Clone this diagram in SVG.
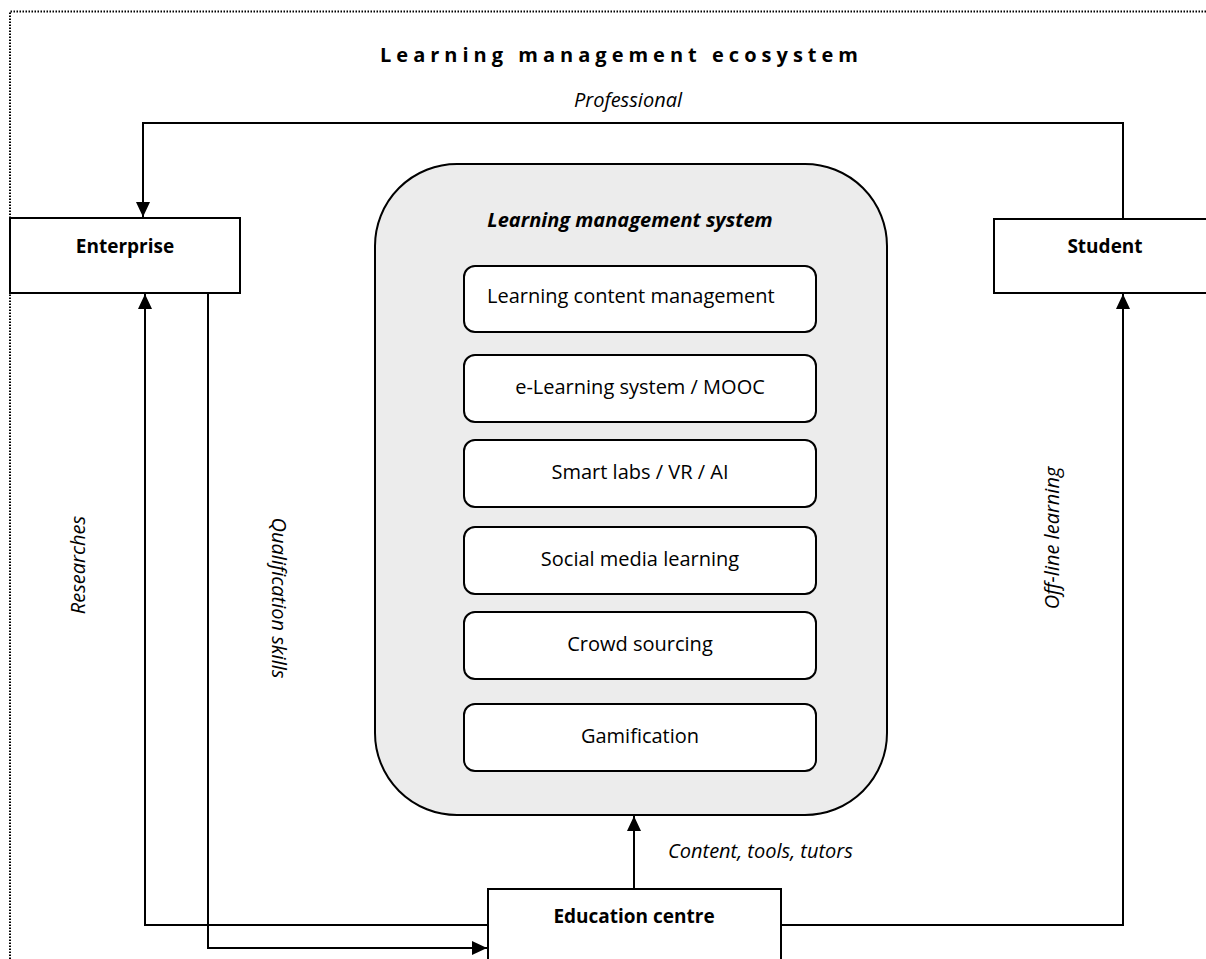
<svg xmlns="http://www.w3.org/2000/svg" width="1206" height="959" viewBox="0 0 1206 959">
<style>
text{font-family:"Open Sans","Noto Sans","DejaVu Sans",sans-serif;fill:#000}
.box{fill:#fff;stroke:#000;stroke-width:2}
.inner{fill:#fff;stroke:#000;stroke-width:2}
.lbl{font-size:20px;text-anchor:middle}
.bold{font-size:19px;font-weight:bold;text-anchor:middle}
.it{font-size:20px;font-style:italic}
.conn{fill:none;stroke:#000;stroke-width:2}
</style>
<defs>
<marker id="arr" markerUnits="userSpaceOnUse" markerWidth="16" markerHeight="16" refX="15" refY="7" orient="auto">
<path d="M0,0 L15,7 L0,14 z" fill="#000"/>
</marker>
</defs>
<rect width="1206" height="959" fill="#fff"/>
<path d="M10,959 V11.5 H1206" fill="none" stroke="#000" stroke-width="2" stroke-dasharray="1.5 1.5"/>
<text x="380" y="62" font-size="20" font-weight="bold" textLength="478" lengthAdjust="spacing">Learning management ecosystem</text>

<g id="connectors">
<path class="conn" d="M1123,219 V123 H143 V217" marker-end="url(#arr)"/>
<path class="conn" d="M488,925 H145 V294" marker-end="url(#arr)"/>
<path class="conn" d="M208,293 V948 H487" marker-end="url(#arr)"/>
<path class="conn" d="M781,925 H1123 V294" marker-end="url(#arr)"/>
<path class="conn" d="M634,889 V816" marker-end="url(#arr)"/>
<text class="it" x="628" y="107" text-anchor="middle">Professional</text>
<text class="it" x="668" y="858">Content, tools, tutors</text>
<text class="it" transform="translate(85,565) rotate(-90)" text-anchor="middle">Researches</text>
<text class="it" transform="translate(272,598) rotate(90)" text-anchor="middle">Qualification skills</text>
<text class="it" transform="translate(1059,538) rotate(-90)" text-anchor="middle">Off-line learning</text>
</g>

<g id="enterprise">
<rect class="box" x="10" y="218" width="230" height="75"/>
<text class="bold" x="125" y="253">Enterprise</text>
</g>
<g id="student">
<rect class="box" x="994" y="219" width="222" height="74"/>
<text class="bold" x="1105" y="253">Student</text>
</g>
<g id="education-centre">
<rect class="box" x="488" y="889" width="293" height="80"/>
<text class="bold" x="634" y="923">Education centre</text>
</g>

<g id="lms">
<rect x="375" y="164" width="512" height="651" rx="82" ry="82" fill="#ececec" stroke="#000" stroke-width="2"/>
<text x="630" y="227" font-size="20" font-weight="bold" font-style="italic" text-anchor="middle">Learning management system</text>
</g>
<g id="lcms">
<rect class="inner" x="464" y="266" width="352" height="66" rx="11"/>
<text x="487" y="303" font-size="20">Learning content management</text>
</g>
<g id="elearning">
<rect class="inner" x="464" y="355" width="352" height="67" rx="11"/>
<text class="lbl" x="640" y="394">e-Learning system / MOOC</text>
</g>
<g id="smartlabs">
<rect class="inner" x="464" y="440" width="352" height="67" rx="11"/>
<text class="lbl" x="640" y="479">Smart labs / VR / AI</text>
</g>
<g id="social">
<rect class="inner" x="464" y="527" width="352" height="67" rx="11"/>
<text class="lbl" x="640" y="566">Social media learning</text>
</g>
<g id="crowd">
<rect class="inner" x="464" y="612" width="352" height="67" rx="11"/>
<text class="lbl" x="640" y="651">Crowd sourcing</text>
</g>
<g id="gamification">
<rect class="inner" x="464" y="704" width="352" height="67" rx="11"/>
<text class="lbl" x="640" y="743">Gamification</text>
</g>
</svg>
